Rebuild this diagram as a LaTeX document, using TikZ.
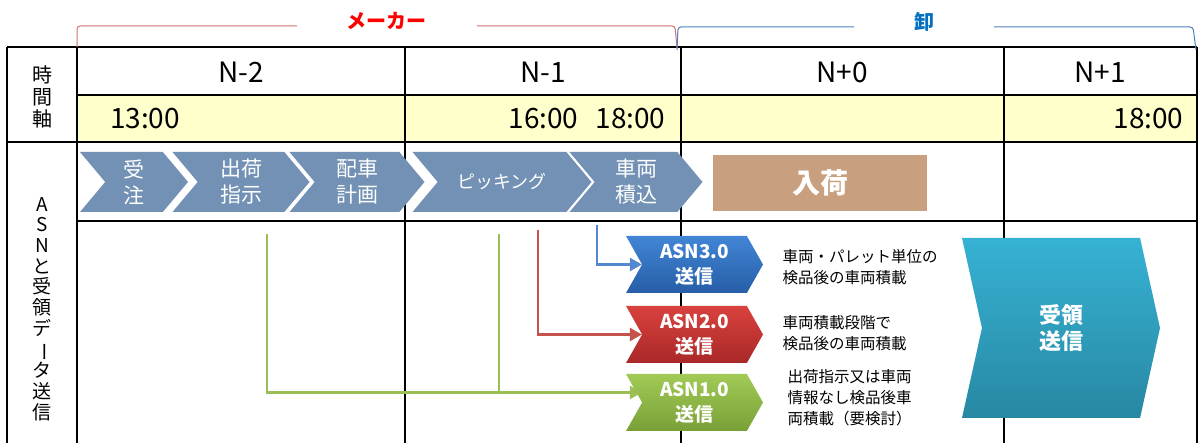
\documentclass[tikz,border=0pt]{standalone}
\usepackage{fontspec}
\setmainfont{Noto Sans CJK JP}
\usetikzlibrary{arrows.meta,shapes.symbols,calc}
\definecolor{chevblue}{RGB}{114,145,180}
\definecolor{arrivebrown}{RGB}{201,160,127}
\definecolor{timeyellow}{RGB}{255,255,204}
\definecolor{makerred}{RGB}{255,0,0}
\definecolor{oroshiblue}{RGB}{0,112,192}
\definecolor{bracketred}{RGB}{212,112,112}
\definecolor{bracketblue}{RGB}{79,129,189}
\definecolor{linkblue}{RGB}{84,136,206}
\definecolor{linkred}{RGB}{198,82,78}
\definecolor{linkgreen}{RGB}{155,190,85}
\definecolor{asnbluetop}{RGB}{66,133,214}
\definecolor{asnbluebot}{RGB}{38,94,166}
\definecolor{asnredtop}{RGB}{216,66,62}
\definecolor{asnredbot}{RGB}{170,40,40}
\definecolor{asngreentop}{RGB}{162,202,86}
\definecolor{asngreenbot}{RGB}{120,160,55}
\definecolor{juryotop}{RGB}{54,178,212}
\definecolor{juryobot}{RGB}{40,136,163}
\newcommand{\fsz}[2]{\fontsize{#1}{#2}\selectfont}

\tikzset{
  tline/.style={line width=1.3pt, black},
  procchev/.style={signal, signal from=west, signal to=east, signal pointer angle=100,
    fill=chevblue, text=white, inner sep=0pt, minimum height=60pt, align=center,
    font=\fsz{21}{26}},
  asnchev/.style={signal, signal from=west, signal to=east, signal pointer angle=121,
    inner sep=0pt, minimum height=57pt, minimum width=137pt, text=white, align=center,
    font=\bfseries\fsz{19}{25}},
  desc/.style={anchor=west, align=left, font=\fsz{15.5}{21}},
  link/.style={line width=2.5pt, -{Triangle[length=12pt,width=13pt]}}
}

\begin{document}
\begin{tikzpicture}[x=1pt,y=-1pt]
\useasboundingbox (0,0) rectangle (1200,443);

% time row background
\fill[timeyellow] (77,95) rectangle (1197,142);

% table grid
\draw[tline] (7,47) -- (1197,47);
\draw[tline] (77,95) -- (1197,95);
\draw[tline] (7,142) -- (1197,142);
\draw[tline] (77,221) -- (1197,221);
\draw[tline] (7,47) -- (7,443);
\draw[tline] (77,47) -- (77,443);
\draw[tline] (405,47) -- (405,443);
\draw[tline] (681,47) -- (681,443);
\draw[tline] (1004,47) -- (1004,443);
\draw[tline] (1197,47) -- (1197,443);

% brackets on top
\draw[bracketred, line width=1pt, rounded corners=3pt] (77,47) -- (77,26) -- (297,26);
\draw[bracketred, line width=1pt, rounded corners=3pt] (477,26) -- (675,26) -- (677,48);
\draw[bracketblue, line width=1pt, rounded corners=3pt] (677,50) -- (678,27) -- (854,27);
\draw[bracketblue, line width=1pt, rounded corners=3pt] (994,27) -- (1193,27) -- (1196,50);
\node[text=makerred, font=\bfseries\fsz{20}{24}] (maker) at (386,21) {メーカー};
\node[text=oroshiblue, font=\bfseries\fsz{20}{24}] (oroshi) at (924,22) {卸};

% left column
\node[align=center, font=\fsz{20}{22}] (jikanjiku) at (42,97) {時\\間\\軸};
\node[align=center, font=\fsz{19}{20.7}] (asnlabel) at (42,309)
  {A\\S\\N\\と\\受\\領\\デ\\\rotatebox[origin=c]{-90}{ー}\\タ\\送\\信};

% day headers
\node[font=\fsz{28}{32}] (n2) at (241,72) {N-2};
\node[font=\fsz{28}{32}] (n1) at (543,72) {N-1};
\node[font=\fsz{28}{32}] (n0) at (842,72) {N+0};
\node[font=\fsz{28}{32}] (p1) at (1100,72) {N+1};

% times
\node[font=\fsz{28}{32}] (t1300) at (145,119) {13:00};
\node[anchor=east, font=\fsz{28}{32}] (t1600) at (669,119) {16:00\hspace{17pt}18:00};
\node[anchor=east, font=\fsz{28}{32}] (t1800) at (1187,119) {18:00};

% process chevrons
\node[procchev, minimum width=108pt] (juchu) at (134,182) {受\\注};
\node[procchev, minimum width=137pt] (shiji) at (241,182) {出荷\\指示};
\node[procchev, minimum width=135pt] (haisha) at (357,182) {配車\\計画};
\node[procchev, minimum width=179pt, font=\fsz{18}{22}] (picking) at (502,182) {ピッキング};
\node[procchev, minimum width=133pt] (tsumikomi) at (636,182) {車両\\積込};
\node[fill=arrivebrown, text=white, minimum width=214pt, minimum height=56pt,
  inner sep=0pt, font=\bfseries\fsz{28}{32}] (nyuka) at (820,183) {入荷};

% ASN sends
\coordinate (s3) at (597,225);
\coordinate (s2) at (538,230);
\coordinate (s1a) at (267,234);
\coordinate (s1b) at (499,234);

\node[asnchev, top color=asnbluetop, bottom color=asnbluebot] (asn3) at (694.5,264.5) {ASN3.0\\送信};
\node[asnchev, top color=asnredtop, bottom color=asnredbot] (asn2) at (694.5,334.5) {ASN2.0\\送信};
\node[asnchev, top color=asngreentop, bottom color=asngreenbot] (asn1) at (694.5,402.5) {ASN1.0\\送信};
\coordinate (g1) at ([yshift=10pt]asn1.west);

\draw[link, linkblue] (s3) |- (asn3.west);
\draw[link, linkred] (s2) |- (asn2.west);
\draw[link, linkgreen] (s1a) |- (g1);
\draw[line width=2.5pt, linkgreen] (s1b) -- (s1b |- g1);

\node[desc] (d3) at (779,267) {車両・パレット単位の\\検品後の車両積載};
\node[desc] (d2) at (779,333) {車両積載段階で\\検品後の車両積載};
\node[desc] (d1) at (784,398) {出荷指示又は車両\\情報なし検品後車\\両積載（要検討）};

% receipt send
\node[signal, signal from=west, signal to=east, signal pointer angle=155,
  minimum width=198pt, minimum height=180pt, inner sep=0pt,
  top color=juryotop, bottom color=juryobot,
  text=white, align=center, font=\bfseries\fsz{22}{26}] (juryo) at (1061,328) {受領\\送信};
\end{tikzpicture}
\end{document}
